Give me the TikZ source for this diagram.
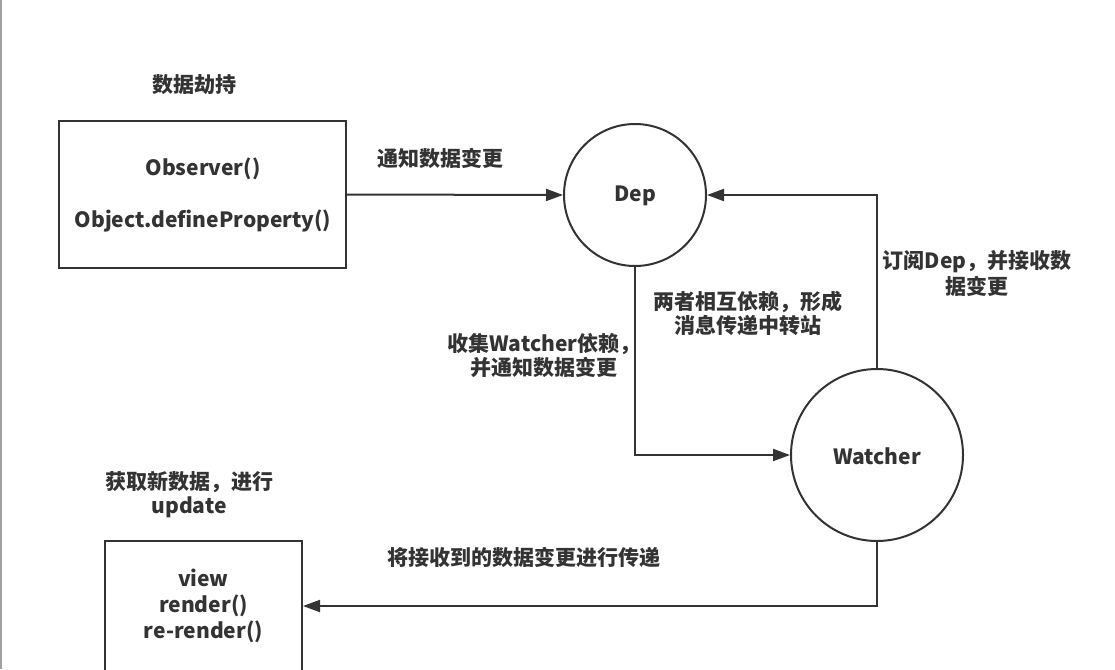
\documentclass[tikz,border=0pt]{standalone}
\usepackage{fontspec}
\setmainfont{Noto Sans CJK SC}
\usetikzlibrary{arrows.meta}
\definecolor{ink}{HTML}{333333}
\definecolor{edge}{HTML}{A0A0A0}
\tikzset{
  base/.style={text=ink, font=\fontsize{21}{24}\selectfont\bfseries},
  boxnode/.style={base, draw=ink, line width=2pt, rectangle, inner sep=0pt},
  roundnode/.style={base, draw=ink, line width=2pt, circle, inner sep=0pt},
  lbl/.style={base, align=center, inner sep=0pt},
  arr/.style={draw=ink, line width=2pt, -{Triangle[length=17pt,width=12pt]}},
}
\begin{document}
\begin{tikzpicture}[x=1pt, y=-1pt]
  \useasboundingbox (0,0) rectangle (1115,669);
  \fill[white] (0,0) rectangle (1115,669);
  % thin frame line on the left edge
  \draw[edge, line width=1.5pt] (0.75,0) -- (0.75,669);

  % nodes
  \node[boxnode, minimum width=287pt, minimum height=147pt] (obs) at (202.5,194.5) {};
  \node[lbl] (obs1) at (203,169) {Observer()};
  \node[lbl] (obs2) at (203,221) {Object.defineProperty()};
  \node[lbl] (hijack) at (194,85) {数据劫持};

  \node[roundnode, minimum size=142pt] (dep) at (635,195) {};
  \node[lbl] (deptxt) at (635,196) {Dep};

  \node[roundnode, minimum size=172pt] (watcher) at (877,455) {};
  \node[lbl] (wtxt) at (877,456) {Watcher};

  \node[boxnode, minimum width=197pt, minimum height=130pt] (view) at (203.5,606) {};
  \node[lbl, font=\fontsize{21}{26}\selectfont\bfseries] (viewtxt) at (203.5,606) {view\\render()\\re-render()};

  % connectors
  \draw[arr] (obs.east) -- (dep.west);
  \draw[arr] (dep.south) |- (watcher.west);
  \draw[arr] (watcher.north) |- (dep.east);
  \draw[arr] (watcher.south) |- (view.east);

  % labels
  \node[lbl] (l1) at (440,158) {通知数据变更};
  \node[lbl] (l2) at (748,313) {两者相互依赖，形成\\消息传递中转站};
  \node[lbl] (l3) at (544,356) {收集Watcher依赖，\\并通知数据变更};
  \node[lbl, font=\fontsize{21}{26}\selectfont\bfseries] (l4) at (977,273) {订阅Dep，并接收数\\据变更};
  \node[lbl] (l5) at (189,495) {获取新数据，进行\\update};
  \node[lbl] (l6) at (524,557) {将接收到的数据变更进行传递};
\end{tikzpicture}
\end{document}
